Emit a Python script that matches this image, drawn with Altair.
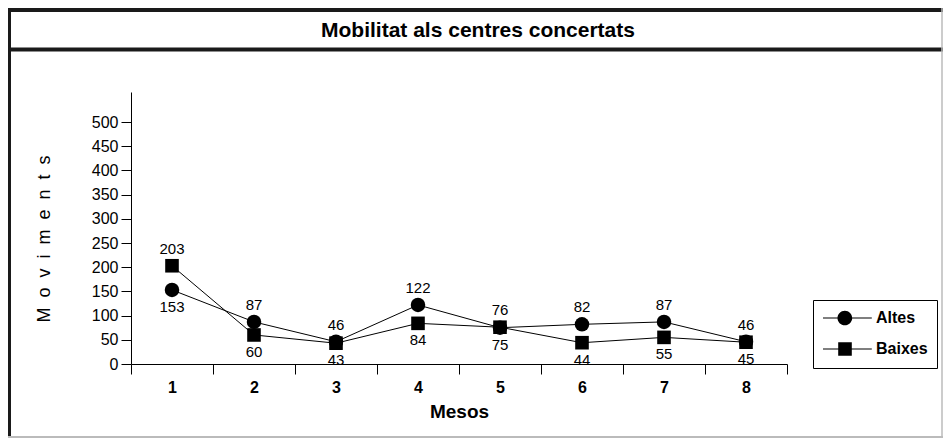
import altair as alt
import pandas as pd

# ---- data ----
months = ["1", "2", "3", "4", "5", "6", "7", "8"]
altes = [153, 87, 46, 122, 75, 82, 87, 46]
baixes = [203, 60, 43, 84, 76, 44, 55, 45]
series_names = ["Altes", "Baixes"]
y_ticks = [0, 50, 100, 150, 200, 250, 300, 350, 400, 450, 500]

df = pd.DataFrame(
    {
        "Mes": months * 2,
        "Serie": ["Altes"] * len(months) + ["Baixes"] * len(months),
        "Valor": altes + baixes,
    }
)

FONT = "Liberation Sans, Arial, Helvetica, sans-serif"

x_enc = alt.X(
    "Mes:O",
    sort=months,
    scale=alt.Scale(type="band", paddingInner=0, paddingOuter=0),
    axis=alt.Axis(
        labelAngle=0,
        tickBand="extent",
        tickSize=10,
        labelPadding=5,
        labelFont=FONT,
        labelFontSize=16,
        labelFontWeight="bold",
        labelColor="black",
        title="Mesos",
        titleFont=FONT,
        titleFontSize=19,
        titleFontWeight="bold",
        titleColor="black",
        titlePadding=7,
        domainColor="black",
        tickColor="black",
        grid=False,
    ),
)
y_enc = alt.Y(
    "Valor:Q",
    scale=alt.Scale(domain=[0, 562], nice=False, zero=True),
    axis=alt.Axis(
        values=y_ticks,
        tickSize=10,
        labelPadding=3,
        labelFont=FONT,
        labelFontSize=16,
        labelColor="black",
        title=None,
        domainColor="black",
        tickColor="black",
        grid=False,
    ),
)

base = alt.Chart(df)

lines = base.mark_line(color="black", strokeWidth=1).encode(
    x=x_enc, y=y_enc, detail="Serie:N"
)
circles = (
    base.transform_filter(alt.datum.Serie == "Altes")
    .mark_point(shape="circle", filled=True, color="black", size=210, opacity=1)
    .encode(x=x_enc, y=y_enc)
)
squares = (
    base.transform_filter(alt.datum.Serie == "Baixes")
    .mark_point(shape="square", filled=True, color="black", size=185, opacity=1)
    .encode(x=x_enc, y=y_enc)
)

lab_base = base.transform_joinaggregate(maxv="max(Valor)", groupby=["Mes"])
labels_above = (
    lab_base.transform_filter(alt.datum.Valor == alt.datum.maxv)
    .mark_text(dy=-17, font=FONT, fontSize=15, color="black")
    .encode(x=x_enc, y=y_enc, text="Valor:Q")
)
labels_below = (
    lab_base.transform_filter(alt.datum.Valor < alt.datum.maxv)
    .mark_text(dy=17, font=FONT, fontSize=15, color="black")
    .encode(x=x_enc, y=y_enc, text="Valor:Q")
)

# legend symbols: a thin bar (the line) with a circle / square on it (unit = 8 px)
circle_path = (
    "M-1,-0.07H5.1V0.07H-1Z"
    "M0.81,0A0.92,0.92 0 1 1 2.65,0A0.92,0.92 0 1 1 0.81,0Z"
)
square_path = "M-1,-0.07H5.1V0.07H-1ZM0.9,-0.85H2.6V0.85H0.9Z"
legend_layer = (
    base.transform_filter("false")
    .mark_point(filled=True, color="black", opacity=1)
    .encode(
        shape=alt.Shape(
            "Serie:N",
            scale=alt.Scale(domain=series_names, range=[circle_path, square_path]),
            legend=alt.Legend(
                orient="none",
                legendX=682,
                legendY=208,
                title=None,
                strokeColor="black",
                padding=9,
                symbolSize=256,
                symbolFillColor="black",
                symbolOpacity=1,
                rowPadding=10,
                labelOffset=36,
                labelFont=FONT,
                labelFontSize=16,
                labelFontWeight="bold",
                labelColor="black",
            ),
        )
    )
)

one = pd.DataFrame({"k": [0]})
frame_top = alt.Chart(one).mark_rule(color="#1a1a1a", strokeWidth=4).encode(
    x=alt.value(-123), x2=alt.value(812), y=alt.value(-82)
)
frame_sep = alt.Chart(one).mark_rule(color="#1a1a1a", strokeWidth=4).encode(
    x=alt.value(-123), x2=alt.value(812), y=alt.value(-42.5)
)
frame_left = alt.Chart(one).mark_rule(color="#1a1a1a", strokeWidth=3).encode(
    x=alt.value(-121.5), y=alt.value(-84), y2=alt.value(346)
)
frame_right = alt.Chart(one).mark_rule(color="#bbbbbb", strokeWidth=1.5).encode(
    x=alt.value(811), y=alt.value(-84), y2=alt.value(346)
)
frame_bottom = alt.Chart(one).mark_rule(color="#bbbbbb", strokeWidth=2).encode(
    x=alt.value(-123), x2=alt.value(812), y=alt.value(345)
)

title_txt = alt.Chart(one).mark_text(
    text="Mobilitat als centres concertats",
    font=FONT,
    fontSize=21,
    fontWeight="bold",
    color="black",
    baseline="middle",
    align="center",
).encode(x=alt.value(347), y=alt.value(-61))

ytitle_txt = alt.Chart(one).mark_text(
    text="M\u00a0\u00a0o\u00a0\u00a0v\u00a0\u00a0i\u00a0\u00a0m\u00a0\u00a0e\u00a0\u00a0n\u00a0\u00a0t\u00a0\u00a0s",
    font=FONT,
    fontSize=18,
    color="black",
    angle=270,
    baseline="middle",
    align="center",
).encode(x=alt.value(-86), y=alt.value(147))

chart = (
    alt.layer(
        frame_top,
        frame_sep,
        frame_left,
        frame_right,
        frame_bottom,
        title_txt,
        ytitle_txt,
        lines,
        circles,
        squares,
        labels_above,
        labels_below,
        legend_layer,
    )
    .properties(
        width=656,
        height=272,
        autosize=alt.AutoSizeParams(type="none"),
        padding={"left": 123, "top": 84, "right": 156, "bottom": 74},
        background="white",
    )
    .configure_view(stroke=None)
)

chart.save("out.html", embed_options={"renderer": "svg", "actions": False})
